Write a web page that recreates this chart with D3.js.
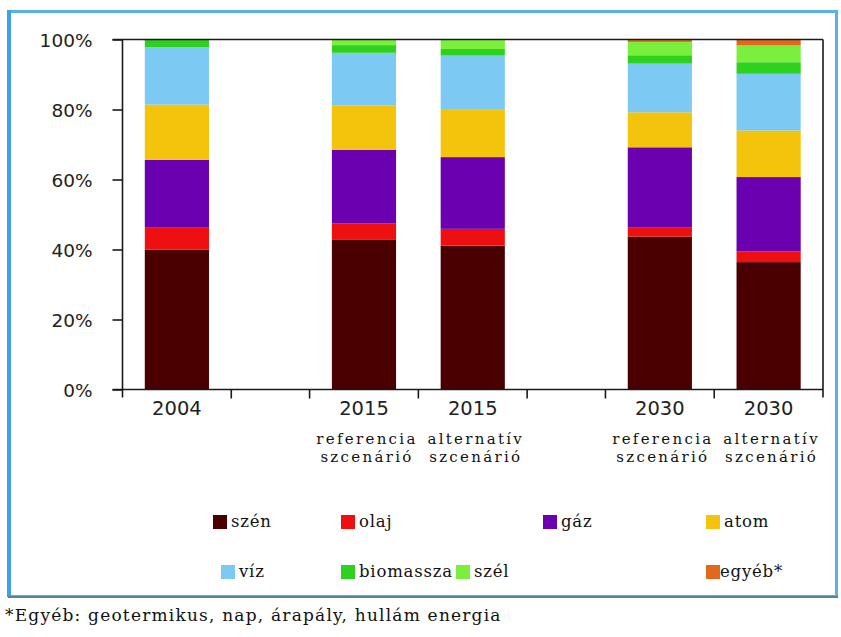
<!DOCTYPE html>
<html>
<head>
<meta charset="utf-8">
<script src="https://cdn.jsdelivr.net/npm/d3@7"></script>
<style>
  html, body { margin: 0; padding: 0; background: #fff; }
  svg { display: block; }
</style>
</head>
<body>
<svg id="chart" width="841" height="637"></svg>
<script>
// Villamosenergia-termelés forrásszerkezete (%)
const years     = ["2004", "2015", "2015", "2030", "2030"];
const scenarios = [[], ["referencia", "szcenárió"], ["alternatív", "szcenárió"],
                   ["referencia", "szcenárió"], ["alternatív", "szcenárió"]];

const szen      = [40.0, 42.9, 41.1, 43.7, 36.4];
const olaj      = [ 6.4,  4.6,  4.8,  2.7,  3.1];
const gaz       = [19.2, 21.0, 20.5, 22.8, 21.2];
const atom      = [15.8, 12.6, 13.5, 10.0, 13.3];
const viz       = [16.4, 15.1, 15.5, 13.9, 16.2];
const biomassza = [ 2.2,  2.2,  1.9,  2.4,  3.3];
const szel      = [ 0.0,  1.6,  2.7,  3.8,  4.8];
const egyeb     = [ 0.0,  0.0,  0.0,  0.7,  1.7];

const seriesNames  = ["szén", "olaj", "gáz", "atom", "víz", "biomassza", "szél", "egyéb*"];
const seriesValues = [szen, olaj, gaz, atom, viz, biomassza, szel, egyeb];
const seriesColors = ["#4a0000", "#ee1010", "#6a00b0", "#f4c40c", "#7ccaf4", "#2ed11e", "#7af03c", "#e2681e"];

const yTicks = [0, 20, 40, 60, 80, 100];
const footnote = "*Egyéb: geotermikus, nap, árapály, hullám energia";

// slot sequence along the x axis: bar slots and narrower empty separators
const slotPattern = [0, -1, 1, 2, -1, 3, 4];   // -1 = empty separator
const gapWidth = 0.72;                          // separator width relative to a bar slot

const rows = years.map((y, i) => {
  const r = { idx: i };
  seriesNames.forEach((k, j) => r[k] = seriesValues[j][i]);
  return r;
});

const svg = d3.select("#chart");

// outer frame
svg.append("rect")
  .attr("x", 9.5).attr("y", 11.5).attr("width", 827).attr("height", 585)
  .attr("fill", "#fff").attr("stroke", "#5cb0e6").attr("stroke-width", 3);
svg.append("line")
  .attr("x1", 9).attr("x2", 9).attr("y1", 10).attr("y2", 597)
  .attr("stroke", "#3ea2ea").attr("stroke-width", 4);
svg.append("line")
  .attr("x1", 8).attr("x2", 838).attr("y1", 597).attr("y2", 597)
  .attr("stroke", "#4f8798").attr("stroke-width", 2);

const plot = { left: 122.5, right: 823, top: 39.5, bottom: 389.5 };

// x layout in slot units
let cursor = 0;
const slots = slotPattern.map(s => {
  const w = s < 0 ? gapWidth : 1;
  const o = { bar: s, start: cursor, end: cursor + w };
  cursor += w;
  return o;
});
const x = d3.scaleLinear().domain([0, cursor]).range([plot.left, plot.right]);
const y = d3.scaleLinear().domain([0, 100]).range([plot.bottom, plot.top]);

const barFrac = 0.59;
const barCenter = i => {
  const s = slots.find(d => d.bar === i);
  return x((s.start + s.end) / 2);
};
const barWidth = (x(1) - x(0)) * barFrac;

// stacked bars
const stack = d3.stack().keys(seriesNames);
const layers = stack(rows);
const color = d3.scaleOrdinal().domain(seriesNames).range(seriesColors);

svg.append("g").selectAll("g")
  .data(layers)
  .join("g")
  .attr("fill", d => color(d.key))
  .selectAll("rect")
  .data(d => d.filter(p => p[1] - p[0] > 0))
  .join("rect")
  .attr("x", d => barCenter(d.data.idx) - barWidth / 2)
  .attr("width", barWidth)
  .attr("y", d => y(d[1]))
  .attr("height", d => y(d[0]) - y(d[1]));

// axes frame
const axisColor = "#1a1a1a";
const g = svg.append("g").attr("stroke", axisColor).attr("stroke-width", 1.6);
g.append("line").attr("x1", plot.left).attr("x2", plot.left).attr("y1", plot.top).attr("y2", plot.bottom + 8);
g.append("line").attr("x1", plot.right).attr("x2", plot.right).attr("y1", plot.top).attr("y2", plot.bottom + 8);
g.append("line").attr("x1", plot.left - 10).attr("x2", plot.right).attr("y1", plot.top).attr("y2", plot.top);
g.append("line").attr("x1", plot.left - 10).attr("x2", plot.right).attr("y1", plot.bottom).attr("y2", plot.bottom);

// y axis
const yAxis = d3.axisLeft(y).tickValues(yTicks).tickSize(10).tickPadding(20)
  .tickFormat(d => d + "%");
const yg = svg.append("g").attr("transform", `translate(${plot.left},0)`).call(yAxis);
yg.select(".domain").remove();
yg.selectAll(".tick line").attr("stroke", axisColor).attr("stroke-width", 1.6);
yg.selectAll(".tick text")
  .attr("font-family", "'DejaVu Sans', sans-serif")
  .attr("font-size", 18.5).attr("fill", "#222").attr("dy", "0.36em");

// x separators (ticks between slots)
const bounds = slots.slice(1).map(s => s.start);
svg.append("g").selectAll("line").data(bounds).join("line")
  .attr("x1", d => x(d)).attr("x2", d => x(d))
  .attr("y1", plot.bottom).attr("y2", plot.bottom + 9)
  .attr("stroke", axisColor).attr("stroke-width", 1.6);

// year labels
svg.append("g").selectAll("text").data(years).join("text")
  .attr("x", (d, i) => barCenter(i))
  .attr("y", 415)
  .attr("text-anchor", "middle")
  .attr("font-family", "'DejaVu Sans', sans-serif")
  .attr("font-size", 19.5).attr("fill", "#222")
  .text(d => d);

// scenario labels
const sc = svg.append("g")
  .attr("font-family", "'DejaVu Serif', serif")
  .attr("font-size", 15).attr("fill", "#111")
  .attr("letter-spacing", 2.3);
scenarios.forEach((lines, i) => {
  lines.forEach((t, k) => {
    sc.append("text")
      .attr("x", barCenter(i) + 3)
      .attr("y", 444 + k * 17.5)
      .attr("text-anchor", "middle")
      .text(t);
  });
});

// legend
const legendCols = [213, 341, 543, 706];
const legendRows = [522, 572];
const legendPos = [[0, 0], [1, 0], [2, 0], [3, 0], [0, 1], [1, 1], [2, 1], [3, 1]];
const lg = svg.append("g");
seriesNames.forEach((name, i) => {
  const [c, r] = legendPos[i];
  let sx = legendCols[c];
  if (i === 4) sx += 8;        // víz
  if (i === 6) sx = 456;       // szél follows biomassza
  const item = lg.append("g").attr("transform", `translate(${sx},${legendRows[r]})`);
  item.append("rect").attr("x", 0).attr("y", -7).attr("width", 14).attr("height", 14)
    .attr("fill", seriesColors[i]);
  item.append("text").attr("x", i === 7 ? 14 : 18).attr("y", 5)
    .attr("font-family", "'DejaVu Serif', serif")
    .attr("font-size", 16.5).attr("letter-spacing", 0.8).attr("fill", "#111")
    .text(name);
});

// footnote
svg.append("text")
  .attr("x", 5).attr("y", 621)
  .attr("font-family", "'DejaVu Serif', serif")
  .attr("font-size", 17).attr("letter-spacing", 1.2).attr("fill", "#111")
  .text(footnote);
</script>
</body>
</html>
